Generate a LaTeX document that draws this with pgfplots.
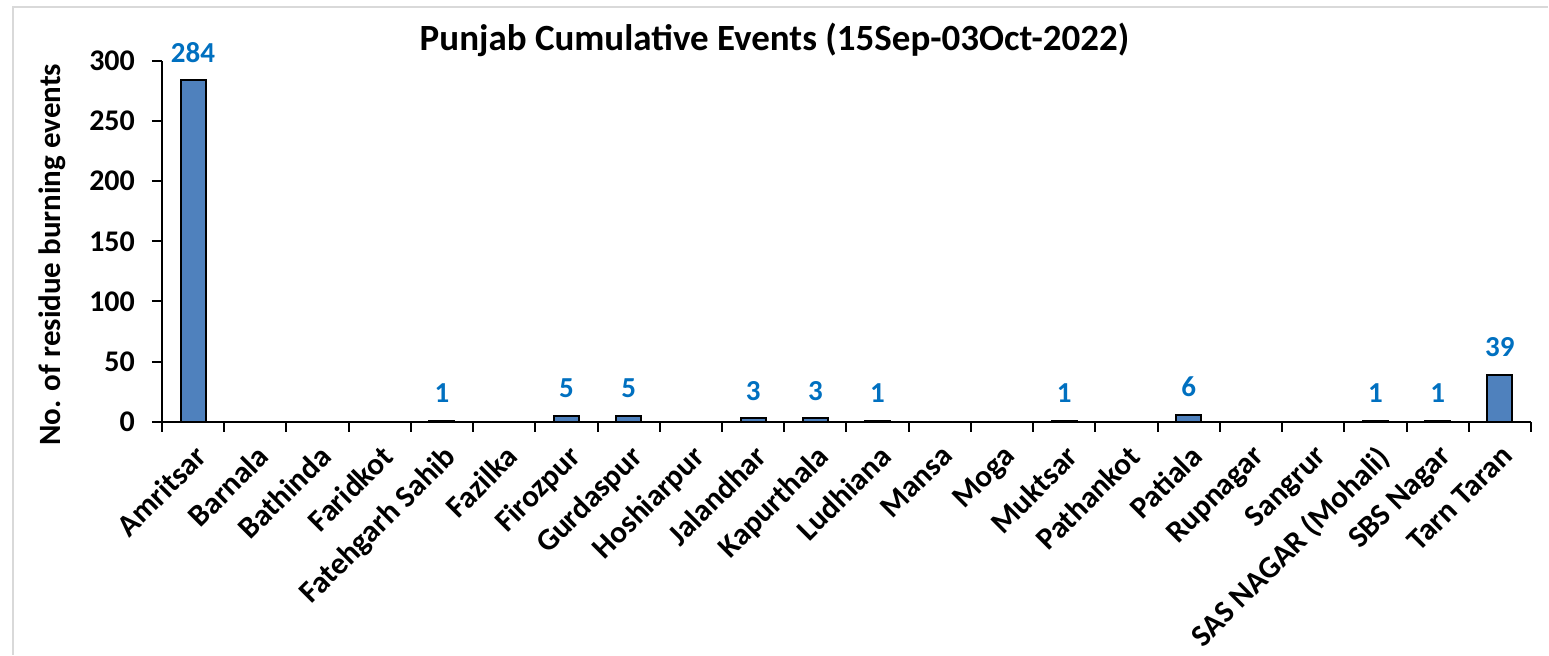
\documentclass[border=0pt]{standalone}
\usepackage{pgfplots}
\pgfplotsset{compat=1.18}
\usepackage{fontspec}
\setmainfont{Carlito}
\definecolor{barblue}{HTML}{4F81BD}
\definecolor{lblblue}{HTML}{0070C0}
\definecolor{framegray}{HTML}{D9D9D9}
\pgfplotstableread{
x val
0 284
1 0
2 0
3 0
4 1
5 0
6 5
7 5
8 0
9 3
10 3
11 1
12 0
13 0
14 1
15 0
16 6
17 0
18 0
19 1
20 1
21 39
}\datatab
\begin{document}
\begin{tikzpicture}
\fill[white] (0,0) rectangle (774.5pt,327.5pt);
\draw[framegray, line width=1pt] (6.5pt,0) -- (6.5pt,324pt) -- (774.5pt,324pt);
\begin{axis}[
  at={(81pt,116.5pt)}, anchor=south west,
  scale only axis, width=685pt, height=180.5pt,
  xmin=-0.5, xmax=21.5, ymin=0, ymax=300,
  axis x line*=bottom, axis y line*=left,
  axis line style={line width=1pt, -},
  every tick/.style={black, line width=1pt},
  tick align=outside,
  xtick={0,...,21},
  major x tick style={draw=none},
  minor xtick={-0.5,0.5,...,21.5},
  minor tick length=5pt,
  ytick={0,50,...,300},
  major tick length=5pt,
  xticklabels={Amritsar,Barnala,Bathinda,Faridkot,Fatehgarh Sahib,Fazilka,Firozpur,Gurdaspur,Hoshiarpur,Jalandhar,Kapurthala,Ludhiana,Mansa,Moga,Muktsar,Pathankot,Patiala,Rupnagar,Sangrur,SAS NAGAR (Mohali),SBS Nagar,Tarn Taran},
  xticklabel style={rotate=45, anchor=north east, inner sep=1pt, xshift=-3pt, yshift=-3pt, font=\fontsize{15.5}{17}\selectfont\bfseries},
  yticklabel style={xshift=-5pt, font=\fontsize{15}{17}\selectfont\bfseries},
  /pgf/number format/assume math mode=true,
  ybar, bar width=12.5pt,
  nodes near coords={\pgfmathfloatifflags{\pgfplotspointmeta}{0}{}{\pgfmathprintnumber{\pgfplotspointmeta}}},
  every node near coord/.append style={font=\fontsize{14.5}{16}\selectfont\bfseries, text=lblblue, yshift=5pt},
  clip=false,
]
\addplot[fill=barblue, draw=black, line width=1pt] table[x=x, y=val] {\datatab};
\end{axis}
\node[anchor=base, font=\fontsize{18.5}{22}\selectfont\bfseries] at (387.5pt,302pt) {Punjab Cumulative Events (15Sep-03Oct-2022)};
\node[rotate=90, font=\fontsize{15.5}{17}\selectfont\bfseries] at (26pt,200pt) {No. of residue burning events};
\end{tikzpicture}
\end{document}
